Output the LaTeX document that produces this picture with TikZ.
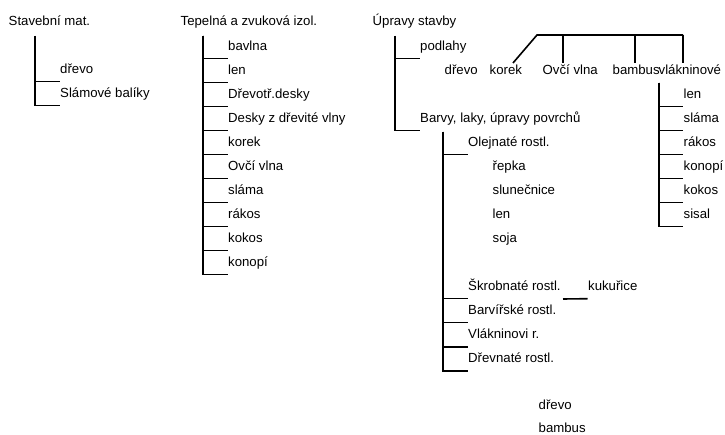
\documentclass[tikz,border=0pt]{standalone}
\usepackage{fontspec}
\setmainfont{Liberation Sans}
\begin{document}
\begin{tikzpicture}[x=1pt,y=-1pt,
  lbl/.style={anchor=west,inner xsep=0.5pt,inner ysep=5.5pt,text height=9.5pt,text depth=2.5pt,font=\fontsize{13.2}{15}\selectfont},
  plain/.style={lbl,inner ysep=0pt},
  ln/.style={line width=1.6pt}]
\useasboundingbox (0,0) rectangle (725,435);
% column 1
\node[plain] (h1) at (8,22) {Stavební mat.};
\coordinate (t1) at (35,36);
\node[lbl] (a1) at (59.5,70) {dřevo};
\node[lbl] (a2) at (59.5,94) {Slámové balíky};
\draw[ln] (t1) |- (a1.south west);
\draw[ln] (t1) |- (a2.south west);
% column 2
\node[plain] (h2) at (180,22) {Tepelná a zvuková izol.};
\coordinate (t2) at (203,36);
\foreach \n/\t [count=\i] in {b1/bavlna,b2/len,b3/Dřevotř.desky,b4/Desky z dřevité vlny,b5/korek,b6/Ovčí vlna,b7/sláma,b8/rákos,b9/kokos,b10/konopí}{
  \node[lbl] (\n) at (227.5,{47+24*(\i-1)}) {\t};
  \draw[ln] (t2) |- (\n.south west);
}
% column 3
\node[plain] (h3) at (372,22) {Úpravy stavby};
\coordinate (t3) at (395,36);
\node[lbl] (p) at (419.5,47) {podlahy};
\node[lbl] (bv) at (419.5,119) {Barvy, laky, úpravy povrchů};
\draw[ln] (t3) |- (p.south west);
\draw[ln] (t3) |- (bv.south west);
% floor row
\node[plain] (r1) at (444,71) {dřevo};
\node[plain] (r2) at (489,71) {korek};
\node[plain] (r3) at (542,71) {Ovčí vlna};
\node[plain] (r4) at (612,71) {bambus};
\node[plain] (r5) at (658,71) {vlákninové};
\coordinate (k1) at (513,63);
\coordinate (hl) at (537,35);
\coordinate (hr) at (683,35);
\coordinate (k3) at (563,63);
\coordinate (k4) at (635,63);
\coordinate (k5) at (683,63);
\draw[ln] (k1) -- (hl) -- (hr);
\draw[ln] (hl -| k3) -- (k3);
\draw[ln] (hl -| k4) -- (k4);
\draw[ln] (hr) -- (k5);
% fibre list
\coordinate (t5) at (659,83);
\foreach \n/\t [count=\i] in {v1/len,v2/sláma,v3/rákos,v4/konopí,v5/kokos,v6/sisal}{
  \node[lbl] (\n) at (683,{95+24*(\i-1)}) {\t};
  \draw[ln] (t5) |- (\n.south west);
}
% surfaces subtree
\coordinate (t4) at (443,132);
\node[lbl] (o) at (467.5,143) {Olejnaté rostl.};
\node[plain] (o1) at (492,167) {řepka};
\node[plain] (o2) at (492,191) {slunečnice};
\node[plain] (o3) at (492,215) {len};
\node[plain] (o4) at (492,239) {soja};
\node[lbl] (s1) at (467.5,287) {Škrobnaté rostl.};
\node[lbl] (s2) at (467.5,311) {Barvířské rostl.};
\node[lbl] (s3) at (467.5,335) {Vlákninovi r.};
\node[lbl] (s4) at (467.5,359) {Dřevnaté rostl.};
\foreach \n in {o,s1,s2,s3,s4}{\draw[ln] (t4) |- (\n.south west);}
\node[lbl] (ku) at (587.5,287) {kukuřice};
\coordinate (kx) at (563,299);
\draw[ln] (kx) -- (ku.south west);
\node[plain] (w1) at (538,406) {dřevo};
\node[plain] (w2) at (538,429) {bambus};
\end{tikzpicture}
\end{document}
